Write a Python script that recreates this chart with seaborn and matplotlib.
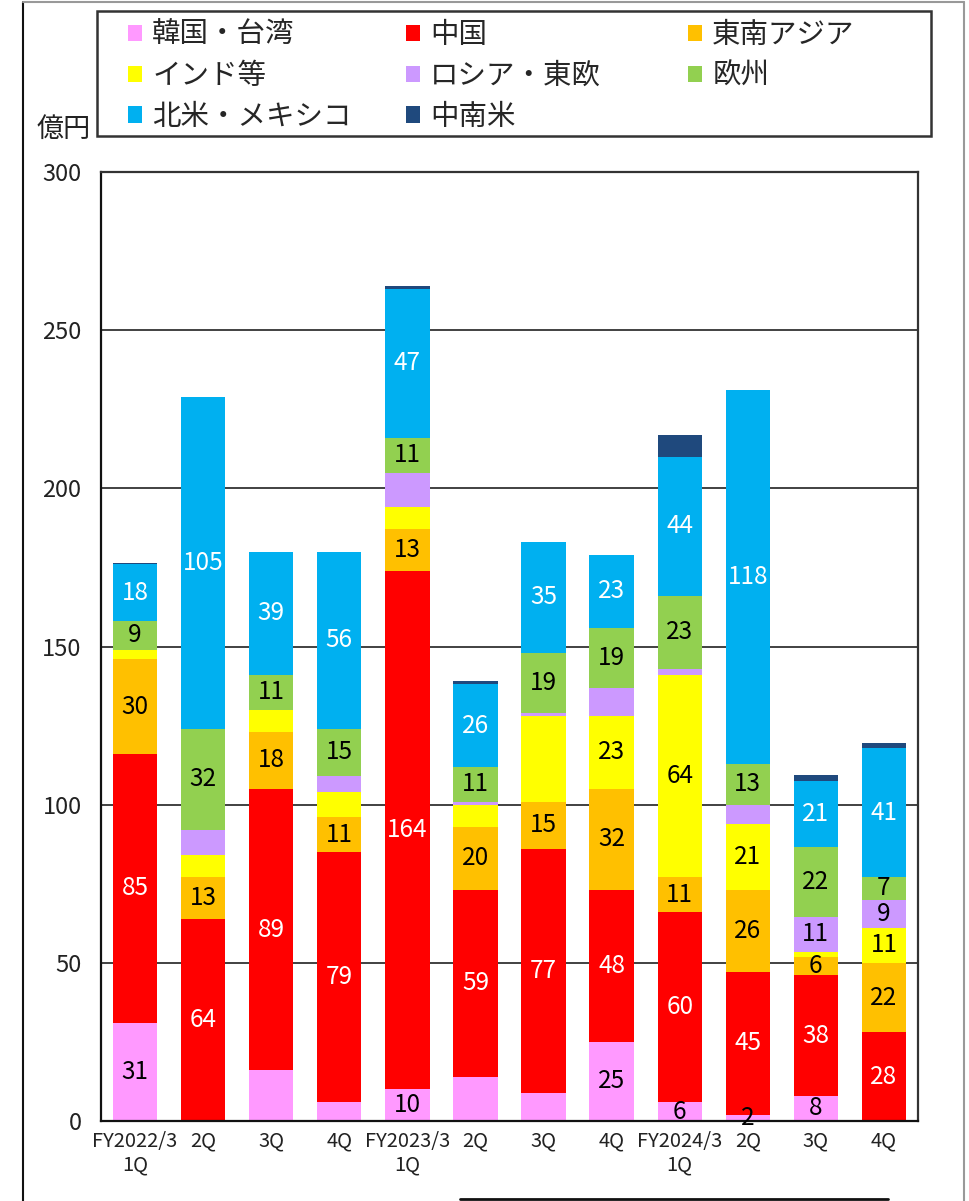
import matplotlib
matplotlib.use('Agg')
import matplotlib.pyplot as plt
import seaborn as sns
import numpy as np
from matplotlib.patches import Patch, Rectangle
from matplotlib.lines import Line2D

sns.set_theme(style='white')
plt.rcParams['font.family'] = ['Noto Sans CJK JP', 'DejaVu Sans']

# ---------------- data ----------------
categories = ['FY2022/3 1Q', 'FY2022/3 2Q', 'FY2022/3 3Q', 'FY2022/3 4Q',
              'FY2023/3 1Q', 'FY2023/3 2Q', 'FY2023/3 3Q', 'FY2023/3 4Q',
              'FY2024/3 1Q', 'FY2024/3 2Q', 'FY2024/3 3Q', 'FY2024/3 4Q']
tick_labels = ['FY2022/3\n1Q', '2Q', '3Q', '4Q',
               'FY2023/3\n1Q', '2Q', '3Q', '4Q',
               'FY2024/3\n1Q', '2Q', '3Q', '4Q']
y_ticks = [0, 50, 100, 150, 200, 250, 300]

series_names = ['韓国・台湾', '中国', '東南アジア', 'インド等',
                'ロシア・東欧', '欧州', '北米・メキシコ', '中南米']
korea_taiwan = [31, 0, 16, 6, 10, 14, 9, 25, 6, 2, 8, 0]
china = [85, 64, 89, 79, 164, 59, 77, 48, 60, 45, 38, 28]
se_asia = [30, 13, 18, 11, 13, 20, 15, 32, 11, 26, 6, 22]
india = [3, 7, 7, 8, 7, 7, 27, 23, 64, 21, 1.5, 11]
russia = [0, 8, 0, 5, 11, 1, 1, 9, 2, 6, 11, 9]
europe = [9, 32, 11, 15, 11, 11, 19, 19, 23, 13, 22, 7]
n_america = [18, 105, 39, 56, 47, 26, 35, 23, 44, 118, 21, 41]
latam = [0.5, 0, 0, 0, 1, 1, 0, 0, 7, 0, 2, 1.5]

# which segments carry a value label in the reference
show_korea = [1, 0, 0, 0, 1, 0, 0, 1, 1, 1, 1, 0]
show_china = [1] * 12
show_se_asia = [1] * 12
show_india = [0, 0, 0, 0, 0, 0, 0, 1, 1, 1, 0, 1]
show_russia = [0] * 10 + [1, 1]
show_europe = [1] * 12
show_n_america = [1] * 12
show_latam = [0] * 12

series_values = [korea_taiwan, china, se_asia, india, russia, europe, n_america, latam]
series_show = [show_korea, show_china, show_se_asia, show_india,
               show_russia, show_europe, show_n_america, show_latam]
series_colors = ['#FF99FF', '#FF0000', '#FFC000', '#FFFF00',
                 '#CC99FF', '#92D050', '#00B0F0', '#1F497D']
label_colors = ['black', 'white', 'black', 'black', 'black', 'black', 'white', 'black']

# ---------------- figure ----------------
W, H = 969, 1201
fig = plt.figure(figsize=(W / 100, H / 100), dpi=100)
ax = fig.add_axes([101 / W, 1 - 1121 / H, 817 / W, 949 / H])
ax.set_axisbelow(True)

bottom = np.zeros(len(categories))
for name, vals, color, show, lc in zip(series_names, series_values, series_colors,
                                       series_show, label_colors):
    vals = np.array(vals, dtype=float)
    sns.barplot(x=categories, y=vals, order=categories, color=color, saturation=1,
                width=0.65, bottom=bottom.copy(), edgecolor='none', linewidth=0,
                errorbar=None, ax=ax)
    for i, (v, s) in enumerate(zip(vals, show)):
        if s:
            ax.text(i, bottom[i] + v / 2, f'{v:g}', ha='center', va='center',
                    fontsize=17.5, color=lc)
    bottom += vals

ax.set_xlim(-0.5, len(categories) - 0.5)
ax.set_ylim(0, 300)
ax.set_yticks(y_ticks)
ax.set_xticks(range(len(categories)))
ax.set_xticklabels(tick_labels, linespacing=1.15)
ax.set_xticks(np.arange(-0.5, len(categories), 1), minor=True)
ax.set_xlabel('')
ax.set_ylabel('')
ax.tick_params(axis='x', which='major', length=0, pad=7, labelsize=14.5, colors='#222222')
ax.tick_params(axis='x', which='minor', direction='in', length=6, width=1.2, color='#222222')
ax.tick_params(axis='y', length=0, pad=14, labelsize=17, colors='#222222')
ax.yaxis.grid(True, color='#333333', linewidth=1.3)
ax.xaxis.grid(False)
for side in ['left', 'bottom']:
    ax.spines[side].set_color('#111111')
    ax.spines[side].set_linewidth(1.6)
for side in ['top', 'right']:
    ax.spines[side].set_color('#333333')
    ax.spines[side].set_linewidth(1.6)
    ax.spines[side].set_visible(True)

fig.text(37 / W, 1 - 129 / H, '億円', fontsize=19.5, va='center', ha='left', color='#222222')

# ---------------- legend (three columns inside one frame) ----------------
handles = [Patch(facecolor=c, edgecolor='none') for c in series_colors]
columns = [[0, 3, 6], [1, 4, 7], [2, 5]]
col_x = [128, 406, 688]
for cx, idx in zip(col_x, columns):
    fig.legend([handles[i] for i in idx], [series_names[i] for i in idx],
               loc='upper left', bbox_to_anchor=(cx / W, 1 - 20 / H),
               bbox_transform=fig.transFigure, frameon=False, fontsize=20.5,
               handlelength=0.5, handleheight=0.5, handletextpad=0.35,
               labelspacing=0.38, borderpad=0, borderaxespad=0)
fig.patches.append(Rectangle((97 / W, 1 - 136 / H), 834 / W, 125 / H,
                             transform=fig.transFigure, fill=False,
                             edgecolor='#333333', linewidth=1.8))

# ---------------- outer frame lines ----------------
fig.add_artist(Line2D([23 / W, 23 / W], [0, 1 - 2 / H], transform=fig.transFigure,
                      color='#111111', linewidth=1.5))
fig.add_artist(Line2D([23 / W, 964 / W], [1 - 2 / H, 1 - 2 / H], transform=fig.transFigure,
                      color='#999999', linewidth=1.5))
fig.add_artist(Line2D([964 / W, 964 / W], [0, 1 - 2 / H], transform=fig.transFigure,
                      color='#999999', linewidth=1.5))
fig.add_artist(Line2D([460 / W, 888 / W], [1 - 1199 / H, 1 - 1199 / H],
                      transform=fig.transFigure, color='#111111', linewidth=2))

fig.savefig('out.png', dpi=100)
